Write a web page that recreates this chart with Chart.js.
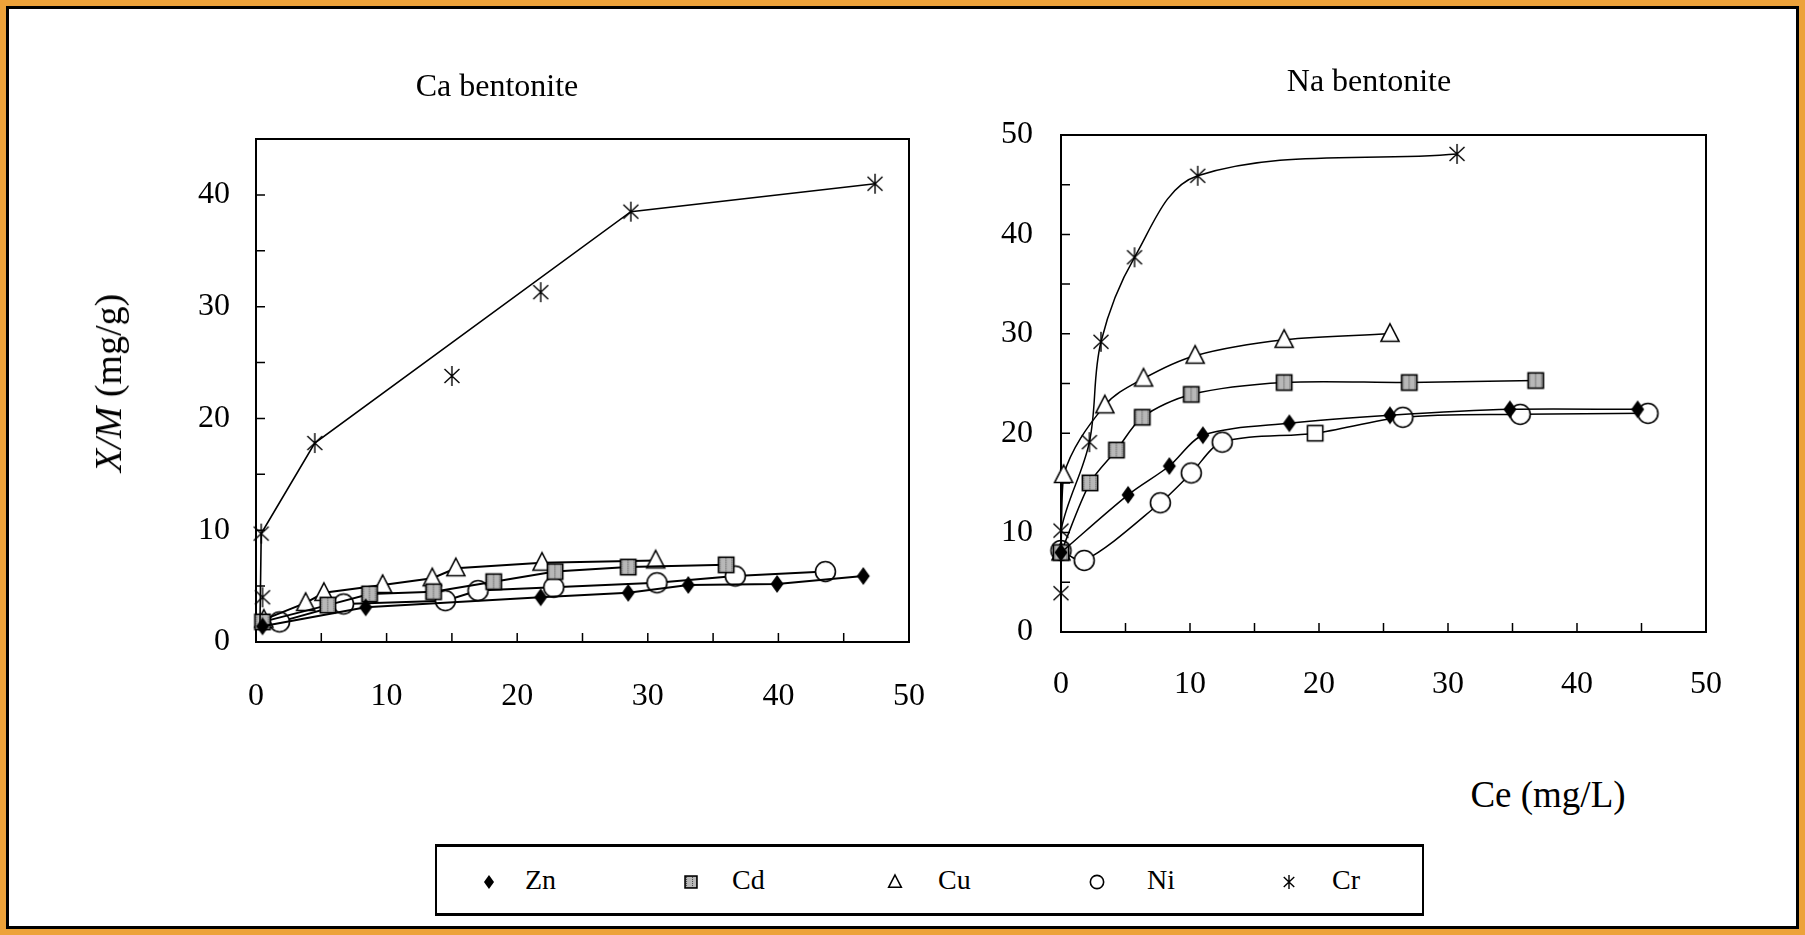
<!DOCTYPE html>
<html><head><meta charset="utf-8">
<script src="https://cdn.jsdelivr.net/npm/chart.js@4.4.1/dist/chart.umd.min.js"></script>
<style>
html,body{margin:0;padding:0;}
body{width:1805px;height:935px;position:relative;overflow:hidden;background:#fff;font-family:"Liberation Serif","DejaVu Serif",serif;color:#000;}
#frame{position:absolute;left:0;top:0;width:1805px;height:935px;box-sizing:border-box;border:6px solid #EDA23A;}
#frame2{position:absolute;left:6px;top:6px;right:6px;bottom:6px;border:3px solid #000;}
.wrap{position:absolute;}
.txt{position:absolute;white-space:nowrap;font-size:32px;line-height:1;transform:translate(-50%,-50%);}
#legend{position:absolute;left:435px;top:844px;width:989px;height:72px;box-sizing:border-box;border-top:3px solid #000;border-bottom:3px solid #000;border-left:2px solid #000;border-right:2px solid #000;}
.lm{position:absolute;transform:translate(-50%,-50%);}
.lt{position:absolute;font-size:28px;line-height:1;transform:translateY(-50%);white-space:nowrap;}
</style></head>
<body>
<div id="frame"></div><div id="frame2"></div>
<div class="wrap" style="left:0;top:0;width:960px;height:760px;"><canvas id="ca"></canvas></div>
<div class="wrap" style="left:940px;top:0;width:840px;height:760px;"><canvas id="na"></canvas></div>
<div class="txt" style="left:497px;top:85px;">Ca bentonite</div>
<div class="txt" style="left:1369px;top:80px;">Na bentonite</div>
<div class="txt" style="left:108px;top:383px;transform:translate(-50%,-50%) rotate(-90deg);font-size:38px;"><i>X/M</i> (mg/g)</div>
<div class="txt" style="left:1548px;top:794px;font-size:37px;">Ce (mg/L)</div>
<div id="legend"></div>
<script>
// ---- Data: Ca bentonite ----
const caZnX = [0.5, 8.4, 21.8, 28.5, 33.1, 39.9, 46.5];
const caZnY = [1.4, 3.1, 4.0, 4.4, 5.1, 5.2, 5.9];
const caCdX = [0.5, 5.5, 8.7, 13.6, 18.2, 22.9, 28.5, 36.0];
const caCdY = [1.8, 3.3, 4.3, 4.5, 5.4, 6.3, 6.7, 6.9];
const caCuX = [0.6, 3.8, 5.2, 9.7, 13.5, 15.3, 21.9, 30.6];
const caCuY = [2.0, 3.5, 4.4, 5.1, 5.7, 6.6, 7.1, 7.3];
const caNiX = [1.8, 6.7, 14.5, 17.0, 22.8, 30.7, 36.7, 43.6];
const caNiY = [1.8, 3.4, 3.7, 4.6, 4.9, 5.3, 5.9, 6.3];
const caCrX = [0.5, 0.4, 4.5, 15.0, 21.8, 28.7, 47.4];
const caCrY = [4.0, 9.7, 17.8, 23.8, 31.3, 38.5, 41.0];
const caCrLineX = [0.3, 0.4, 4.5, 28.7, 47.4];
const caCrLineY = [1.3, 9.7, 17.8, 38.5, 41.0];
// ---- Data: Na bentonite ----
const naZnX = [0, 5.2, 8.4, 11.0, 17.7, 25.5, 34.8, 44.7];
const naZnY = [8.0, 13.8, 16.7, 19.8, 21.0, 21.8, 22.4, 22.4];
const naCdX = [0, 2.25, 4.3, 6.3, 10.1, 17.3, 27.0, 36.8];
const naCdY = [8.0, 15.0, 18.3, 21.6, 23.9, 25.1, 25.1, 25.3];
const naCuX = [0, 0.2, 3.4, 6.4, 10.4, 17.3, 25.5];
const naCuY = [8.0, 15.8, 22.8, 25.5, 27.8, 29.4, 30.0];
const naNiX = [0, 1.8, 7.7, 10.1, 12.5, 19.7, 26.5, 35.6, 45.5];
const naNiY = [8.2, 7.2, 13.0, 16.0, 19.1, 20.0, 21.6, 21.9, 22.0];
const naCrX = [0, 0, 2.2, 3.1, 5.7, 10.6, 30.7];
const naCrY = [3.9, 10.2, 19.1, 29.2, 37.7, 45.9, 48.1];
// ---- Axes ----
const xMinorTicks = [5, 10, 15, 20, 25, 30, 35, 40, 45];
const caYMinorTicks = [5, 10, 15, 20, 25, 30, 35, 40];
const naYMinorTicks = [5, 10, 15, 20, 25, 30, 35, 40, 45];
const seriesNames = ['Zn', 'Cd', 'Cu', 'Ni', 'Cr'];

function marker(type, s){
  const pad = 3, W = s + pad*2;
  const c = document.createElement('canvas'); c.width = W; c.height = W;
  const g = c.getContext('2d'); const m = W/2, r = s/2;
  g.strokeStyle = '#000'; g.lineWidth = 1.6;
  if (type === 'diamond'){
    g.beginPath(); g.moveTo(m, m-r); g.lineTo(m+r*0.72, m); g.lineTo(m, m+r); g.lineTo(m-r*0.72, m); g.closePath();
    g.fillStyle = '#000'; g.fill();
  } else if (type === 'square' || type === 'squareOpen'){
    const h = r*0.85;
    g.fillStyle = type === 'square' ? '#b8b8b8' : '#fff';
    g.fillRect(m-h, m-h, 2*h, 2*h);
    if (type === 'square'){
      g.fillStyle = '#444';
      for (let i = 0; i < 2*h-2; i += 2) for (let j = 0; j < 2*h-2; j += 2){
        if (((i + j*3) % 6) === 0) g.fillRect(m-h+1+i, m-h+1+j, 1, 1);
      }
    }
    g.strokeRect(m-h, m-h, 2*h, 2*h);
  } else if (type === 'triangle'){
    g.beginPath(); g.moveTo(m, m-r); g.lineTo(m+r*0.9, m+r*0.75); g.lineTo(m-r*0.9, m+r*0.75); g.closePath();
    g.fillStyle = '#fff'; g.fill(); g.stroke();
  } else if (type === 'circle'){
    g.beginPath(); g.arc(m, m, r*0.95, 0, Math.PI*2); g.fillStyle = '#fff'; g.fill(); g.stroke();
  } else if (type === 'asterisk'){
    g.lineWidth = 1.4; g.beginPath();
    g.moveTo(m, m-r); g.lineTo(m, m+r);
    g.moveTo(m-r*0.75, m-r*0.7); g.lineTo(m+r*0.75, m+r*0.7);
    g.moveTo(m+r*0.75, m-r*0.7); g.lineTo(m-r*0.75, m+r*0.7);
    g.stroke();
  }
  return c;
}
const M = {
  Zn: marker('diamond', 18), Cd: marker('square', 18), Cu: marker('triangle', 20),
  Ni: marker('circle', 21), Cr: marker('asterisk', 20), NiSq: marker('squareOpen', 18)
};
const pts = (xs, ys) => xs.map((x, i) => ({x: x, y: ys[i]}));

const boxPlugin = {
  id: 'box',
  beforeDatasetsDraw(chart, args, opts){
    const {ctx, chartArea: a, scales: {x, y}} = chart;
    ctx.save(); ctx.strokeStyle = '#000'; ctx.lineWidth = 2;
    ctx.strokeRect(a.left, a.top, a.right - a.left, a.bottom - a.top);
    ctx.lineWidth = 1.5; ctx.beginPath();
    for (const v of opts.xTicks){ const p = x.getPixelForValue(v); ctx.moveTo(p, a.bottom); ctx.lineTo(p, a.bottom - opts.len); }
    for (const v of opts.yTicks){ const p = y.getPixelForValue(v); ctx.moveTo(a.left, p); ctx.lineTo(a.left + opts.len, p); }
    ctx.stroke(); ctx.restore();
  }
};

function ds(data, style, width, tension, showPts){
  return { data: data, showLine: true, borderColor: '#000', borderWidth: width, tension: tension,
    pointStyle: style, pointRadius: showPts ? 10 : 0, pointHoverRadius: showPts ? 10 : 0, clip: false,
    backgroundColor: '#000' };
}

function makeChart(id, datasets, o){
  const font = {family: 'Liberation Serif', size: 32};
  return new Chart(document.getElementById(id), {
    type: 'scatter',
    data: {datasets: datasets},
    options: {
      responsive: true, maintainAspectRatio: false, animation: false, events: [],
      layout: {padding: {left: 0, top: o.top, right: o.right, bottom: 0}},
      plugins: {legend: {display: false}, tooltip: {enabled: false}, box: {xTicks: xMinorTicks, yTicks: o.yTicks, len: o.len}},
      scales: {
        x: {type: 'linear', min: 0, max: 50, grid: {display: false, drawTicks: false}, border: {display: false},
            ticks: {stepSize: 10, includeBounds: false, padding: o.xPad, color: '#000', font: font, maxRotation: 0},
            afterFit: s => { s.height = o.xH; }},
        y: {type: 'linear', min: 0, max: o.ymax, grid: {display: false, drawTicks: false}, border: {display: false},
            ticks: {stepSize: 10, includeBounds: false, padding: o.yPad, color: '#000', font: font,
                    callback: v => (v % 10 === 0 ? String(v) : '')},
            afterFit: s => { s.width = o.yW; }}
      }
    },
    plugins: [boxPlugin]
  });
}

makeChart('ca', [
  ds(pts(caCrLineX, caCrLineY), M.Cr, 1.6, 0, false),
  Object.assign(ds(pts(caCrX, caCrY), M.Cr, 0, 0, true), {showLine: false}),
  ds(pts(caZnX, caZnY), M.Zn, 2, 0, true),
  ds(pts(caCdX, caCdY), M.Cd, 2, 0, true),
  ds(pts(caCuX, caCuY), M.Cu, 2, 0, true),
  ds(pts(caNiX, caNiY), M.Ni, 2, 0, true)
], {top: 139, right: 48, xH: 118, yW: 256, ymax: 45, yTicks: caYMinorTicks, len: 9, xPad: 35, yPad: 26});

makeChart('na', [
  ds(pts(naCrX, naCrY), M.Cr, 1.5, 0.35, true),
  ds(pts(naZnX, naZnY), M.Zn, 1.5, 0.3, true),
  ds(pts(naCdX, naCdY), M.Cd, 1.5, 0.3, true),
  ds(pts(naCuX, naCuY), M.Cu, 1.5, 0.35, true),
  Object.assign(ds(pts(naNiX, naNiY), M.Ni, 1.5, 0.3, true),
    {pointStyle: naNiX.map((x, i) => (i === 5 ? M.NiSq : M.Ni))})
], {top: 135, right: 74, xH: 128, yW: 121, ymax: 50, yTicks: naYMinorTicks, len: 9, xPad: 33, yPad: 28});

// legend
const lg = document.getElementById('legend');
const legMarkX = [489, 691, 895, 1097, 1289];
const legTextX = [525, 732, 938, 1147, 1332];
const legTop = 844;
seriesNames.forEach((n, i) => {
  const mk = marker({Zn:'diamond', Cd:'square', Cu:'triangle', Ni:'circle', Cr:'asterisk'}[n], 14);
  mk.className = 'lm'; mk.style.left = (legMarkX[i] - 435 - 2) + 'px'; mk.style.top = (882 - legTop - 3) + 'px';
  lg.appendChild(mk);
  const t = document.createElement('div'); t.className = 'lt'; t.textContent = n;
  t.style.left = (legTextX[i] - 435 - 2) + 'px'; t.style.top = (880 - legTop - 3) + 'px';
  lg.appendChild(t);
});
</script>
</body></html>
